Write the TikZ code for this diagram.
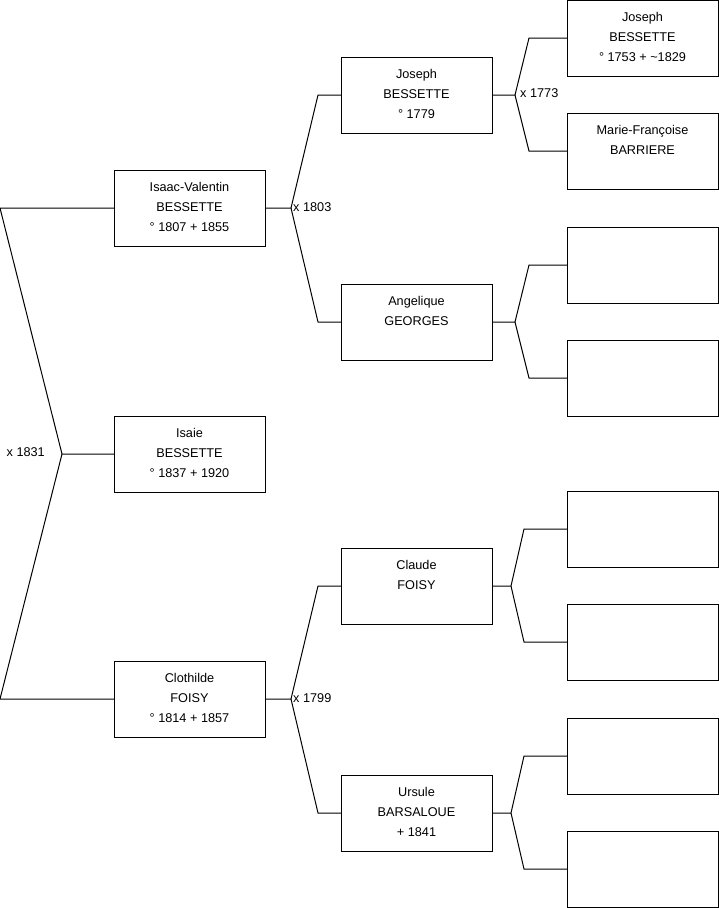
\documentclass[tikz,border=0pt]{standalone}
\usepackage{fontspec}
\setmainfont{Liberation Sans}
\begin{document}
\begin{tikzpicture}[x=1pt,y=-1pt,
  personbox/.style={draw=black,line width=1pt,minimum width=151pt,minimum height=76pt,inner sep=0pt,outer sep=0pt},
  persontext/.style={anchor=north,align=center,inner sep=0pt,font=\fontsize{12.7}{20}\selectfont},
  marr/.style={inner sep=0pt,font=\fontsize{12.7}{15}\selectfont},
  link/.style={draw=black,line width=1pt}]
\useasboundingbox (0,0) rectangle (719,908);
% generation 1
\node[personbox] (isaac) at (189.5,208) {};
\node[personbox] (isaie) at (189.5,454) {};
\node[personbox] (cloth) at (189.5,699) {};
% generation 2
\node[personbox] (joseph) at (416.5,95) {};
\node[personbox] (angel) at (416.5,322) {};
\node[personbox] (claude) at (416.5,586) {};
\node[personbox] (ursule) at (416.5,813) {};
% generation 3
\node[personbox] (g1) at (642.5,38) {};
\node[personbox] (g2) at (642.5,151) {};
\node[personbox] (g3) at (642.5,265) {};
\node[personbox] (g4) at (642.5,378) {};
\node[personbox] (g5) at (642.5,529) {};
\node[personbox] (g6) at (642.5,642) {};
\node[personbox] (g7) at (642.5,756) {};
\node[personbox] (g8) at (642.5,869) {};
% texts
\node[persontext] (tisaac) at ([yshift=-7.3pt]isaac.north) {\strut Isaac-Valentin\\BESSETTE\\° 1807 + 1855};
\node[persontext] (tisaie) at ([yshift=-7.3pt]isaie.north) {\strut Isaie\\BESSETTE\\° 1837 + 1920};
\node[persontext] (tcloth) at ([yshift=-7.3pt]cloth.north) {\strut Clothilde\\FOISY\\° 1814 + 1857};
\node[persontext] (tjoseph) at ([yshift=-7.3pt]joseph.north) {\strut Joseph\\BESSETTE\\° 1779};
\node[persontext] (tangel) at ([yshift=-7.3pt]angel.north) {\strut Angelique\\GEORGES};
\node[persontext] (tclaude) at ([yshift=-7.3pt]claude.north) {\strut Claude\\FOISY};
\node[persontext] (tursule) at ([yshift=-7.3pt]ursule.north) {\strut Ursule\\BARSALOUE\\+ 1841};
\node[persontext] (tg1) at ([yshift=-7.3pt]g1.north) {\strut Joseph\\BESSETTE\\° 1753 + \string~1829};
\node[persontext] (tg2) at ([yshift=-7.3pt]g2.north) {\strut Marie-Françoise\\BARRIERE};
% junctions
\coordinate (j0) at (62,454);
\coordinate (j1) at (291,208);
\coordinate (j2) at (291,699);
\coordinate (j3) at (515,95);
\coordinate (j4) at (515,322);
\coordinate (j5) at (511,586);
\coordinate (j6) at (511,813);
% connectors
\draw[link] (isaie.west) -- (j0) -- (0,208) -- (isaac.west);
\draw[link] (j0) -- (0,699) -- (cloth.west);
\draw[link] (isaac.east) -- (j1) -- ([xshift=-23pt]joseph.west) -- (joseph.west);
\draw[link] (j1) -- ([xshift=-23pt]angel.west) -- (angel.west);
\draw[link] (cloth.east) -- (j2) -- ([xshift=-23pt]claude.west) -- (claude.west);
\draw[link] (j2) -- ([xshift=-23pt]ursule.west) -- (ursule.west);
\draw[link] (joseph.east) -- (j3) -- ([xshift=-38pt]g1.west) -- (g1.west);
\draw[link] (j3) -- ([xshift=-38pt]g2.west) -- (g2.west);
\draw[link] (angel.east) -- (j4) -- ([xshift=-38pt]g3.west) -- (g3.west);
\draw[link] (j4) -- ([xshift=-38pt]g4.west) -- (g4.west);
\draw[link] (claude.east) -- (j5) -- ([xshift=-43pt]g5.west) -- (g5.west);
\draw[link] (j5) -- ([xshift=-43pt]g6.west) -- (g6.west);
\draw[link] (ursule.east) -- (j6) -- ([xshift=-43pt]g7.west) -- (g7.west);
\draw[link] (j6) -- ([xshift=-43pt]g8.west) -- (g8.west);
% marriage labels
\node[marr,anchor=east] (m0) at (45,452) {x 1831};
\node[marr,anchor=west] (m1) at (293,207) {x 1803};
\node[marr,anchor=west] (m2) at (293,698) {x 1799};
\node[marr,anchor=west] (m3) at (520,93) {x 1773};
\end{tikzpicture}
\end{document}
